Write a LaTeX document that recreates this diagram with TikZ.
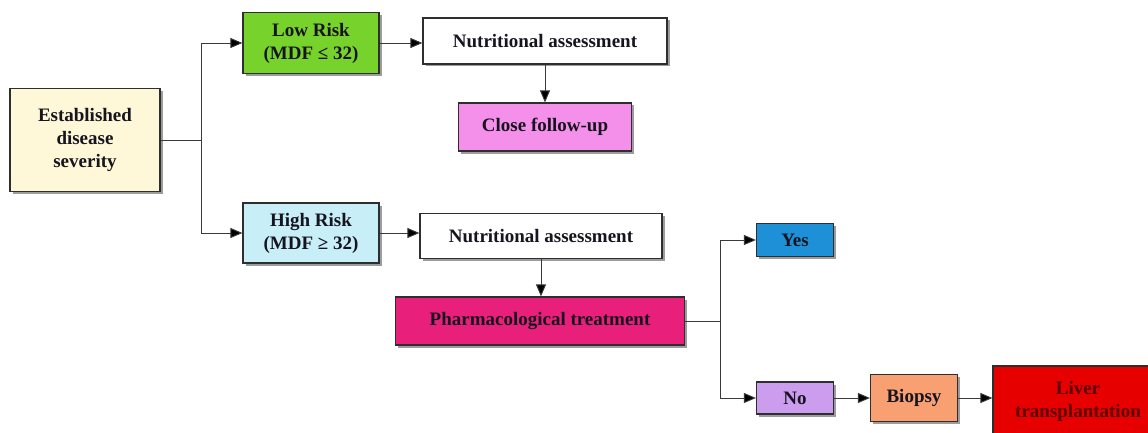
\documentclass[tikz,border=0pt]{standalone}
\usepackage{fontspec}
\setmainfont{Liberation Serif}
\usetikzlibrary{arrows.meta,shadows,calc}
\definecolor{estc}{HTML}{FFF8D8}
\definecolor{lowc}{HTML}{78D22C}
\definecolor{closec}{HTML}{F590EA}
\definecolor{highc}{HTML}{C8EEF8}
\definecolor{pharmc}{HTML}{E8207C}
\definecolor{yesc}{HTML}{1E90D8}
\definecolor{noc}{HTML}{CC9CEE}
\definecolor{biopc}{HTML}{F8A072}
\definecolor{liverc}{HTML}{E60000}
\definecolor{txtc}{HTML}{16141F}
\definecolor{linec}{HTML}{3A3A3A}
\tikzset{
  x=1pt,y=-1pt,
  box/.style={draw=linec!80!black, line width=1.2pt, inner sep=2pt, align=center,
    font=\fontsize{19}{23}\selectfont\bfseries, text=txtc,
    drop shadow={shadow xshift=2.5pt, shadow yshift=-2.5pt, opacity=0.55, fill=black!70}},
  conn/.style={draw=linec, line width=0.9pt},
  arr/.style={conn, -{Triangle[length=12pt,width=10pt,fill=black]}},
}
\begin{document}
\begin{tikzpicture}
\useasboundingbox (0,0) rectangle (1148,433);
\fill[white] (0,0) rectangle (1148,433);
\node[box, fill=estc, minimum width=150pt, minimum height=103pt] (est) at (85,140) {Established\\disease\\severity};
\node[box, fill=lowc, minimum width=136pt, minimum height=61pt] (low) at (311,43) {Low Risk\\(MDF ≤ 32)};
\node[box, fill=white, minimum width=244pt, minimum height=46pt] (nut1) at (545,41) {Nutritional assessment};
\node[box, fill=closec, minimum width=173pt, minimum height=48pt] (close) at (545,127) {Close follow-up};
\node[box, fill=highc, minimum width=136pt, minimum height=60pt] (high) at (311,233) {High Risk\\(MDF ≥ 32)};
\node[box, fill=white, minimum width=242pt, minimum height=45pt] (nut2) at (541,236) {Nutritional assessment};
\node[box, fill=pharmc, minimum width=289pt, minimum height=48pt] (pharm) at (540,321) {Pharmacological treatment};
\node[box, fill=yesc, minimum width=77pt, minimum height=33pt] (yes) at (795,240) {Yes};
\node[box, fill=noc, minimum width=77pt, minimum height=32pt] (no) at (795,398) {No};
\node[box, fill=biopc, minimum width=87pt, minimum height=47pt] (biop) at (914,398) {Biopsy};
\node[box, fill=liverc, text=liverc!40!black, minimum width=170pt, minimum height=70pt] (liver) at (1078,401) {Liver\\transplantation};
\coordinate (s1) at (201,140);
\coordinate (s2) at (720,321);
\draw[conn] (est.east) -- (s1);
\draw[arr] (s1) |- (low.west);
\draw[arr] (s1) |- (high.west);
\draw[arr] (low.east) -- (low.east -| nut1.west);
\draw[arr] (nut1.south) -- (close.north);
\draw[arr] (high.east) -- (high.east -| nut2.west);
\draw[arr] (nut2.south) -- (nut2.south |- pharm.north);
\draw[conn] (pharm.east) -- (s2);
\draw[arr] (s2) |- (yes.west);
\draw[arr] (s2) |- (no.west);
\draw[arr] (no.east) -- (biop.west);
\draw[arr] (biop.east) -- (biop.east -| liver.west);
\end{tikzpicture}
\end{document}
